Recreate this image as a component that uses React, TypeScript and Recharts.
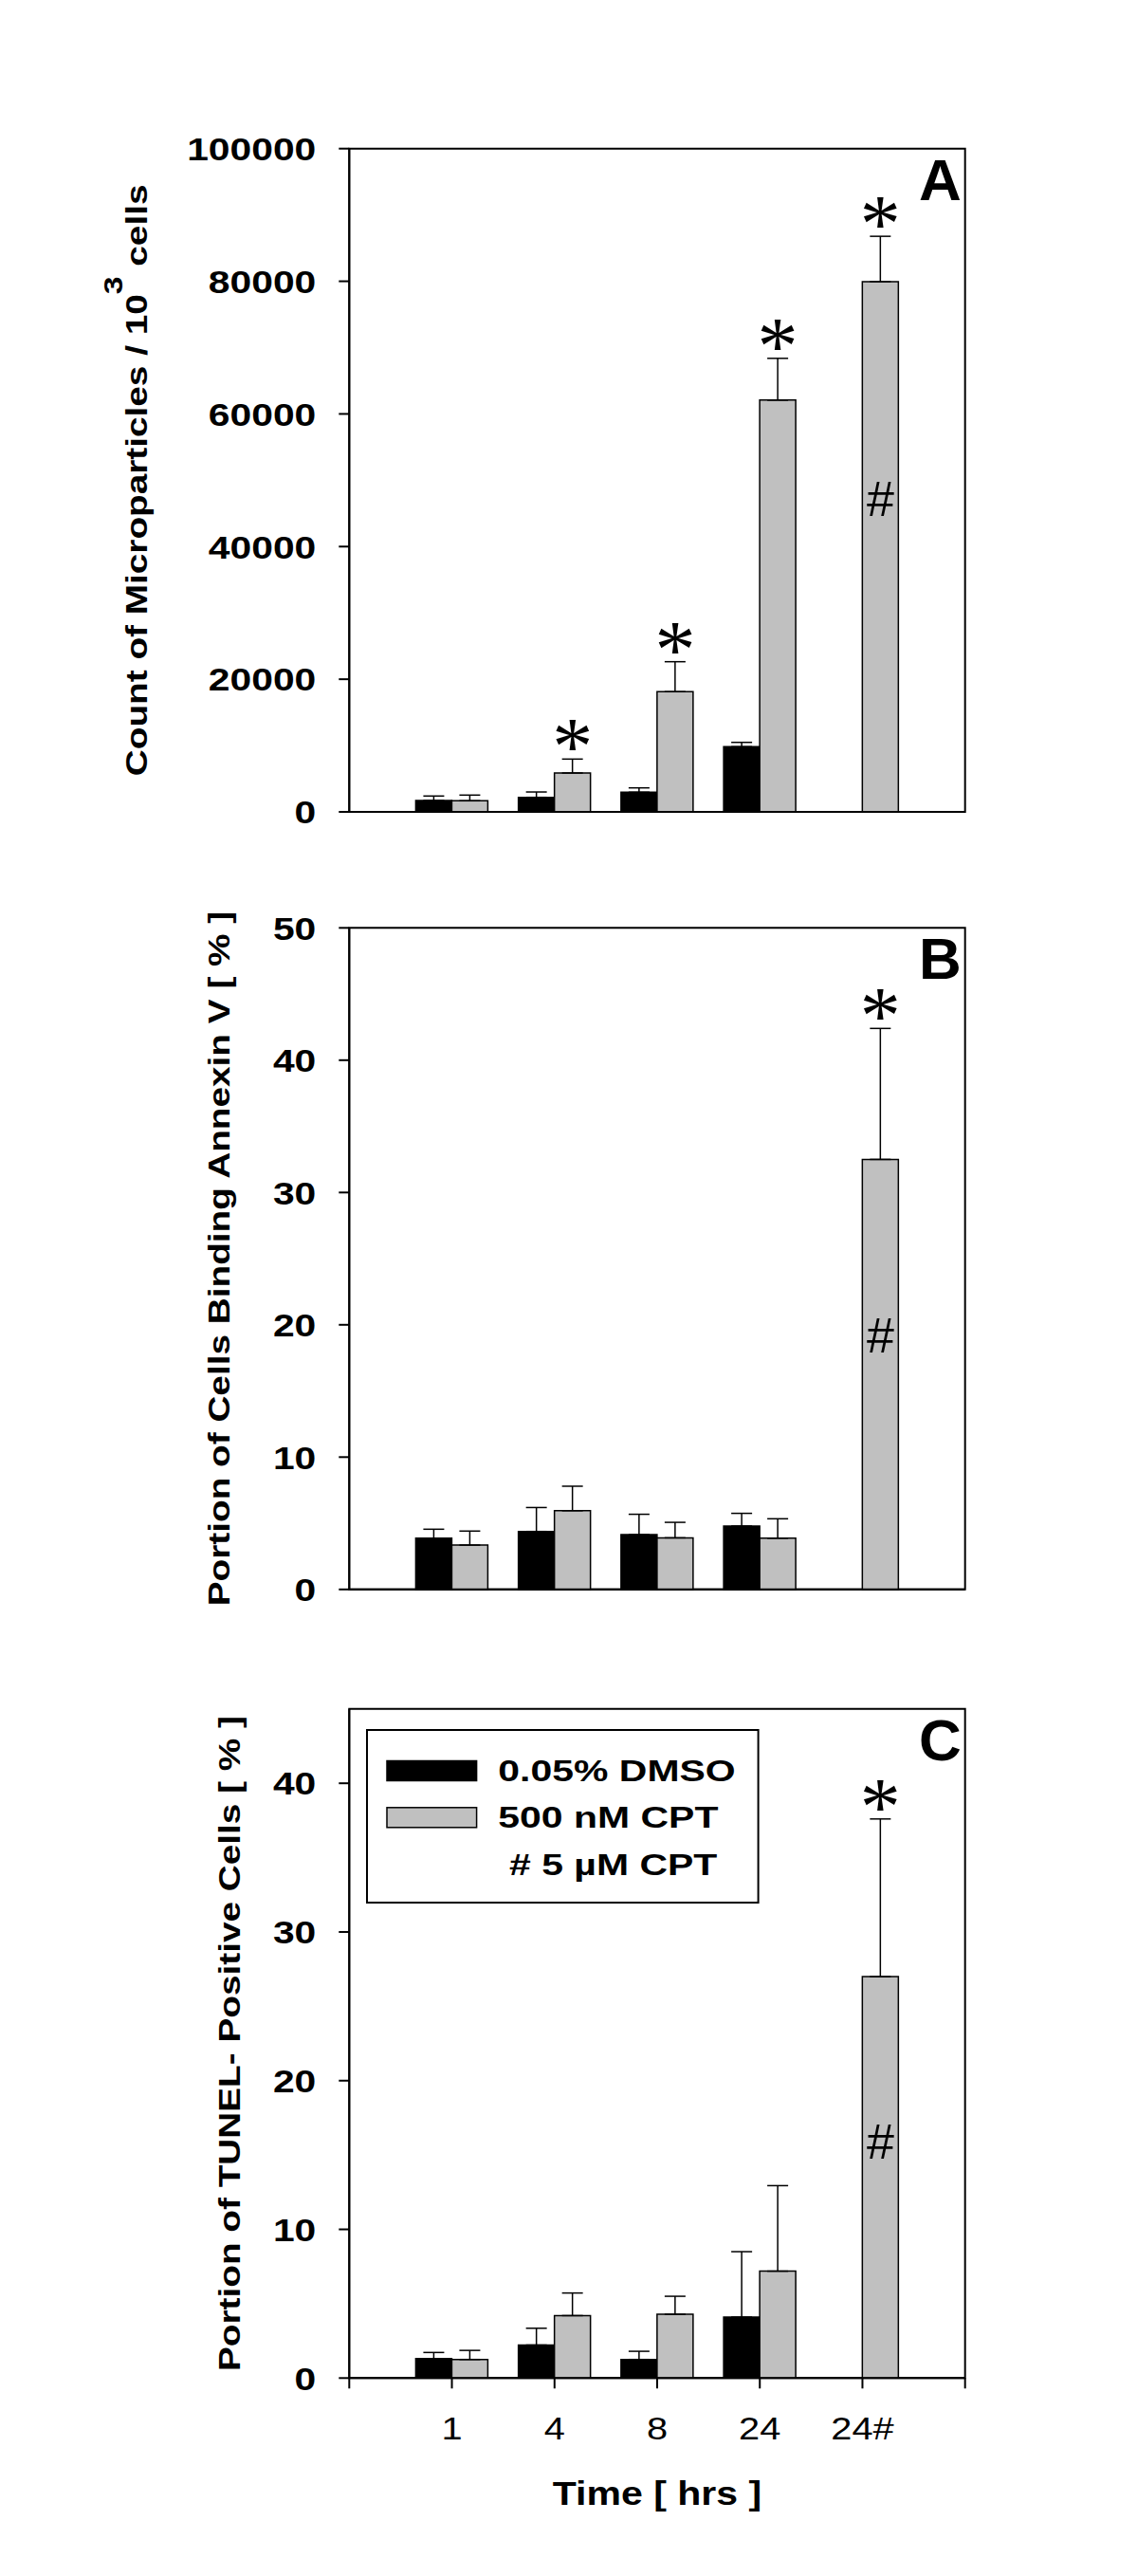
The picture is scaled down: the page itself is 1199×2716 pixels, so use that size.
import React from 'react';
import {
  BarChart,
  Bar,
  XAxis,
  YAxis,
  ErrorBar,
  LabelList,
  Legend,
  ReferenceArea,
} from 'recharts';

const SANS = '"Liberation Sans", Arial, Helvetica, sans-serif';
const SERIF = '"Liberation Serif", "Times New Roman", Times, serif';

// x categories (hours); "24#" is the 5 µM CPT group
const categories = ['1', '4', '8', '24', '24#'];
const xTickLabels = ['', ...categories, ''];
const xTicks = xTickLabels.map((_, i) => i);
const hashIndex = categories.indexOf('24#');

// Panel A: microparticles per 10^3 cells
const dmsoCountA = [1720, 2190, 2960, 9820, null];
const dmsoCountErrA = [670, 810, 660, 660, null];
const cptCountA = [1670, 5860, 18120, 62080, 79950];
const cptCountErrA = [860, 2100, 4520, 6300, 6830];
const starsA = [false, true, true, true, true];
const ticksA = [0, 20000, 40000, 60000, 80000, 100000];

// Panel B: annexin V binding (%)
const dmsoAnnexin = [3.87, 4.38, 4.14, 4.79, null];
const dmsoAnnexinErr = [0.68, 1.81, 1.54, 0.96, null];
const cptAnnexin = [3.35, 5.95, 3.9, 3.87, 32.5];
const cptAnnexinErr = [1.06, 1.85, 1.17, 1.47, 9.9];
const starsB = [false, false, false, false, true];
const ticksB = [0, 10, 20, 30, 40, 50];

// Panel C: TUNEL positive cells (%)
const dmsoTunel = [1.31, 2.22, 1.25, 4.1, null];
const dmsoTunelErr = [0.41, 1.13, 0.55, 4.4, null];
const cptTunel = [1.25, 4.2, 4.29, 7.19, 27];
const cptTunelErr = [0.61, 1.52, 1.21, 5.75, 10.6];
const starsC = [false, false, false, false, true];
const ticksC = [0, 10, 20, 30, 40];

const seriesNames = ['0.05% DMSO', '500 nM CPT'];
const legendNote = '# 5 \u00b5M CPT';

function buildRows(
  dmso: (number | null)[],
  dmsoErr: (number | null)[],
  cpt: number[],
  cptErr: number[],
) {
  return categories.map((name, i) => ({
    name,
    pos: i + 1,
    dmso: dmso[i],
    dmsoErr: dmsoErr[i] == null ? null : [0, dmsoErr[i]],
    cpt: cpt[i],
    cptErr: [0, cptErr[i]],
  }));
}

const rowsA = buildRows(dmsoCountA, dmsoCountErrA, cptCountA, cptCountErrA);
const rowsB = buildRows(dmsoAnnexin, dmsoAnnexinErr, cptAnnexin, cptAnnexinErr);
const rowsC = buildRows(dmsoTunel, dmsoTunelErr, cptTunel, cptTunelErr);

const axisStroke = { stroke: '#000', strokeWidth: 2 };

const YTick = (props: any) => {
  const { x, y, payload } = props;
  return (
    <text
      transform={`translate(${x},${y}) scale(1.2,1)`}
      textAnchor="end"
      dy="0.36em"
      fontFamily={SANS}
      fontWeight="bold"
      fontSize={34}
      fill="#000"
    >
      {payload.value}
    </text>
  );
};

const XTick = (props: any) => {
  const { x, y, payload } = props;
  const label = xTickLabels[payload.value] ?? '';
  if (!label) return null;
  return (
    <text
      transform={`translate(${x},${y}) scale(1.17,1)`}
      textAnchor="middle"
      dy="0.71em"
      fontFamily={SANS}
      fontSize={34}
      fill="#000"
    >
      {label}
    </text>
  );
};

// rotated y title, gap = distance from the plot's left edge to the text baseline
const yTitle = (main: string, gap: number, sup?: string, after?: string) => (p: any) => {
  const vb = p.viewBox || {};
  const bx = vb.x + vb.width - gap;
  const cy = vb.y + vb.height / 2;
  return (
    <text
      transform={`translate(${bx},${cy}) rotate(-90) scale(1.25,1)`}
      textAnchor="middle"
      fontFamily={SANS}
      fontWeight="bold"
      fontSize={31}
      fill="#000"
    >
      {main}
      {sup && (
        <tspan dy={-26} fontSize={27}>
          {sup}
        </tspan>
      )}
      {after && (
        <tspan dy={26} fontSize={31}>
          {after}
        </tspan>
      )}
    </text>
  );
};

const panelLetter = (letter: string) => (p: any) => {
  const vb = p.viewBox || {};
  return (
    <text
      x={vb.x + vb.width - 4}
      y={vb.y + 54}
      textAnchor="end"
      fontFamily={SANS}
      fontWeight="bold"
      fontSize={62}
      fill="#000"
    >
      {letter}
    </text>
  );
};

const timeLabel = (p: any) => {
  const vb = p.viewBox || {};
  return (
    <text
      transform={`translate(${vb.x + vb.width / 2},${vb.y + 134})scale(1.14,1)`}
      textAnchor="middle"
      fontFamily={SANS}
      fontWeight="bold"
      fontSize={36}
      fill="#000"
    >
      Time [ hrs ]
    </text>
  );
};

// significance stars above the error bars and the "#" inside the 5 µM bar
const makeMarks = (stars: boolean[], errs: number[]) => (props: any) => {
  const vb = props.viewBox || props;
  const { x, y, width, height } = vb;
  const index = props.index;
  const value = Number(props.value);
  if (!value || height == null) return null;
  const cx = x + width / 2;
  const pxPerUnit = height / value;
  return (
    <g>
      {stars[index] && (
        <text
          x={cx}
          y={y - errs[index] * pxPerUnit - 24 + 40}
          textAnchor="middle"
          fontFamily={SERIF}
          fontSize={86}
          fill="#000"
        >
          *
        </text>
      )}
      {index === hashIndex && (
        <text
          x={cx}
          y={y + height * 0.41 + 18}
          textAnchor="middle"
          fontFamily={SANS}
          fontSize={52}
          fill="#000"
        >
          #
        </text>
      )}
    </g>
  );
};

const LegendBox = (props: any) => {
  const payload = (props.payload || []).slice(0, 2);
  return (
    <svg width={416} height={186} style={{ display: 'block' }}>
      <rect x={1} y={1} width={412.6} height={182} fill="#fff" stroke="#000" strokeWidth={2} />
      {payload.map((item: any, i: number) => (
        <g key={item.value}>
          <rect
            x={22}
            y={33.5 + i * 49.3}
            width={94.6}
            height={21}
            fill={item.color}
            stroke="#000"
            strokeWidth={1.5}
          />
          <text
            transform={`translate(139.3,${55 + i * 48.7}) scale(1.28,1)`}
            fontFamily={SANS}
            fontWeight="bold"
            fontSize={32}
            fill="#000"
          >
            {item.value}
          </text>
        </g>
      ))}
      <text
        transform="translate(151,154) scale(1.28,1)"
        fontFamily={SANS}
        fontWeight="bold"
        fontSize={32}
        fill="#000"
      >
        {legendNote}
      </text>
    </svg>
  );
};

type PanelProps = {
  rows: any[];
  yMax: number;
  yTicks: number[];
  stars: boolean[];
  cptErr: number[];
  letter: string;
  title: (p: any) => any;
  top: number;
  height: number;
  marginTop: number;
  marginBottom: number;
  xAxisHeight: number;
  showXLabels?: boolean;
  withLegend?: boolean;
};

function Panel(p: PanelProps) {
  return (
    <div style={{ position: 'absolute', left: 0, top: p.top, width: 1199, height: p.height }}>
      <BarChart
        width={1199}
        height={p.height}
        data={p.rows}
        barGap={0}
        margin={{ top: p.marginTop, right: 181.3, bottom: p.marginBottom, left: 268.3 }}
      >
        <XAxis
          dataKey="pos"
          type="number"
          domain={[0, 6]}
          ticks={xTicks}
          interval={0}
          height={p.xAxisHeight}
          tickSize={11}
          tickMargin={30}
          axisLine={axisStroke}
          tickLine={axisStroke}
          tick={p.showXLabels ? <XTick /> : false}
          label={p.showXLabels ? timeLabel : undefined}
        />
        <YAxis
          type="number"
          domain={[0, p.yMax]}
          ticks={p.yTicks}
          interval={0}
          width={100}
          tickSize={11}
          tickMargin={24}
          axisLine={axisStroke}
          tickLine={axisStroke}
          tick={<YTick />}
          label={p.title}
        />
        <ReferenceArea
          x1={0}
          x2={6}
          y1={0}
          y2={p.yMax}
          fill="none"
          fillOpacity={0}
          stroke="#000"
          strokeWidth={2}
          label={panelLetter(p.letter)}
        />
        <Bar
          dataKey="dmso"
          name={seriesNames[0]}
          fill="#000000"
          stroke="#000"
          strokeWidth={1.5}
          barSize={38}
          isAnimationActive={false}
        >
          <ErrorBar
            dataKey="dmsoErr"
            direction="y"
            width={11}
            stroke="#000"
            strokeWidth={1.5}
            isAnimationActive={false}
          />
        </Bar>
        <Bar
          dataKey="cpt"
          name={seriesNames[1]}
          fill="#c0c0c0"
          stroke="#000"
          strokeWidth={1.5}
          barSize={38}
          isAnimationActive={false}
        >
          <ErrorBar
            dataKey="cptErr"
            direction="y"
            width={11}
            stroke="#000"
            strokeWidth={1.5}
            isAnimationActive={false}
          />
          <LabelList dataKey="cpt" content={makeMarks(p.stars, p.cptErr)} />
        </Bar>
        {p.withLegend && (
          <Legend
            layout="vertical"
            align="center"
            verticalAlign="middle"
            content={<LegendBox />}
            wrapperStyle={{ position: 'absolute', left: 385.7, top: 113, width: 416, height: 186 }}
          />
        )}
      </BarChart>
    </div>
  );
}

export default function App() {
  return (
    <div
      style={{
        position: 'absolute',
        left: 0,
        top: 0,
        width: 1199,
        height: 2716,
        background: '#fff',
        overflow: 'hidden',
      }}
    >
      <Panel
        rows={rowsA}
        yMax={100000}
        yTicks={ticksA}
        stars={starsA}
        cptErr={cptCountErrA}
        letter="A"
        title={yTitle('Count of Microparticles / 10', 213, '3', ' cells')}
        top={0}
        height={900}
        marginTop={156.7}
        marginBottom={14}
        xAxisHeight={30}
      />
      <Panel
        rows={rowsB}
        yMax={50}
        yTicks={ticksB}
        stars={starsB}
        cptErr={cptAnnexinErr}
        letter="B"
        title={yTitle('Portion of Cells Binding Annexin V [ % ]', 126)}
        top={900}
        height={820}
        marginTop={78.3}
        marginBottom={14.2}
        xAxisHeight={30}
      />
      <Panel
        rows={rowsC}
        yMax={45}
        yTicks={ticksC}
        stars={starsC}
        cptErr={cptTunelErr}
        letter="C"
        title={yTitle('Portion of TUNEL- Positive Cells [ % ]', 115)}
        top={1710}
        height={1006}
        marginTop={91.8}
        marginBottom={148.7}
        xAxisHeight={60}
        showXLabels
        withLegend
      />
    </div>
  );
}
